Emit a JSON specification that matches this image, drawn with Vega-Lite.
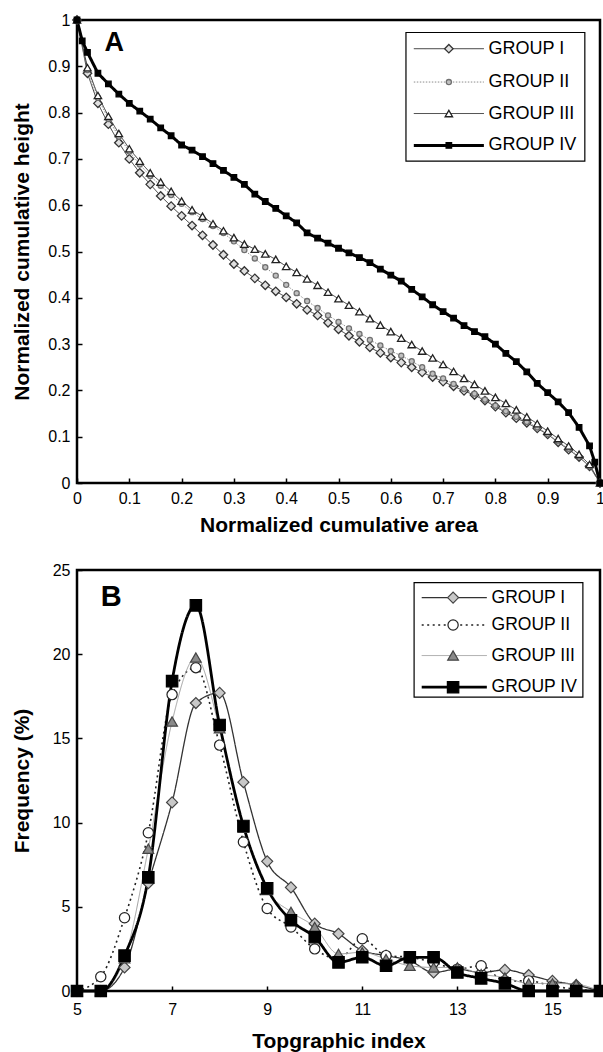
{
"$schema": "https://vega.github.io/schema/vega-lite/v6.json",
"padding": {"left": 9, "top": 10, "right": 2, "bottom": 0},
"spacing": 23,
"config": {
  "font": "Liberation Sans",
  "view": {"stroke": "#000000", "strokeWidth": 2.5},
  "axis": {"grid": false, "domain": false, "ticks": true, "tickColor": "#000000", "tickWidth": 1.5, "tickSize": -5, "labelColor": "#000000", "titleColor": "#000000", "labelFont": "Liberation Sans", "titleFont": "Liberation Sans", "labelFontSize": 16, "titleFontSize": 21, "titleFontWeight": "bold", "labelFlush": false, "labelOverlap": false}
},
"resolve": {"scale": {"color": "independent", "fill": "independent", "stroke": "independent", "shape": "independent", "size": "independent", "strokeDash": "independent", "strokeWidth": "independent"}},
"datasets": {
"A": [
{"g":"GROUP I","x":0,"y":1},{"g":"GROUP I","x":0.02,"y":0.885},{"g":"GROUP I","x":0.04,"y":0.82},{"g":"GROUP I","x":0.06,"y":0.775},{"g":"GROUP I","x":0.08,"y":0.735},{"g":"GROUP I","x":0.1,"y":0.7},{"g":"GROUP I","x":0.12,"y":0.67},{"g":"GROUP I","x":0.14,"y":0.645},{"g":"GROUP I","x":0.16,"y":0.62},{"g":"GROUP I","x":0.18,"y":0.598},{"g":"GROUP I","x":0.2,"y":0.577},{"g":"GROUP I","x":0.22,"y":0.556},{"g":"GROUP I","x":0.24,"y":0.535},{"g":"GROUP I","x":0.26,"y":0.514},{"g":"GROUP I","x":0.28,"y":0.493},{"g":"GROUP I","x":0.3,"y":0.473},{"g":"GROUP I","x":0.32,"y":0.458},{"g":"GROUP I","x":0.34,"y":0.442},{"g":"GROUP I","x":0.36,"y":0.427},{"g":"GROUP I","x":0.38,"y":0.414},{"g":"GROUP I","x":0.4,"y":0.401},{"g":"GROUP I","x":0.42,"y":0.387},{"g":"GROUP I","x":0.44,"y":0.374},{"g":"GROUP I","x":0.46,"y":0.362},{"g":"GROUP I","x":0.48,"y":0.346},{"g":"GROUP I","x":0.5,"y":0.332},{"g":"GROUP I","x":0.52,"y":0.318},{"g":"GROUP I","x":0.54,"y":0.305},{"g":"GROUP I","x":0.56,"y":0.293},{"g":"GROUP I","x":0.58,"y":0.281},{"g":"GROUP I","x":0.6,"y":0.271},{"g":"GROUP I","x":0.62,"y":0.26},{"g":"GROUP I","x":0.64,"y":0.25},{"g":"GROUP I","x":0.66,"y":0.239},{"g":"GROUP I","x":0.68,"y":0.229},{"g":"GROUP I","x":0.7,"y":0.219},{"g":"GROUP I","x":0.72,"y":0.209},{"g":"GROUP I","x":0.74,"y":0.199},{"g":"GROUP I","x":0.76,"y":0.19},{"g":"GROUP I","x":0.78,"y":0.178},{"g":"GROUP I","x":0.8,"y":0.165},{"g":"GROUP I","x":0.82,"y":0.152},{"g":"GROUP I","x":0.84,"y":0.14},{"g":"GROUP I","x":0.86,"y":0.13},{"g":"GROUP I","x":0.88,"y":0.118},{"g":"GROUP I","x":0.9,"y":0.105},{"g":"GROUP I","x":0.92,"y":0.088},{"g":"GROUP I","x":0.94,"y":0.072},{"g":"GROUP I","x":0.96,"y":0.056},{"g":"GROUP I","x":0.98,"y":0.036},{"g":"GROUP I","x":1,"y":0},
{"g":"GROUP II","x":0,"y":1},{"g":"GROUP II","x":0.02,"y":0.892},{"g":"GROUP II","x":0.04,"y":0.832},{"g":"GROUP II","x":0.06,"y":0.786},{"g":"GROUP II","x":0.08,"y":0.748},{"g":"GROUP II","x":0.1,"y":0.716},{"g":"GROUP II","x":0.12,"y":0.688},{"g":"GROUP II","x":0.14,"y":0.663},{"g":"GROUP II","x":0.16,"y":0.642},{"g":"GROUP II","x":0.18,"y":0.622},{"g":"GROUP II","x":0.2,"y":0.603},{"g":"GROUP II","x":0.22,"y":0.585},{"g":"GROUP II","x":0.24,"y":0.57},{"g":"GROUP II","x":0.26,"y":0.555},{"g":"GROUP II","x":0.28,"y":0.54},{"g":"GROUP II","x":0.3,"y":0.522},{"g":"GROUP II","x":0.32,"y":0.503},{"g":"GROUP II","x":0.34,"y":0.485},{"g":"GROUP II","x":0.36,"y":0.466},{"g":"GROUP II","x":0.38,"y":0.448},{"g":"GROUP II","x":0.4,"y":0.428},{"g":"GROUP II","x":0.42,"y":0.41},{"g":"GROUP II","x":0.44,"y":0.393},{"g":"GROUP II","x":0.46,"y":0.378},{"g":"GROUP II","x":0.48,"y":0.362},{"g":"GROUP II","x":0.5,"y":0.348},{"g":"GROUP II","x":0.52,"y":0.334},{"g":"GROUP II","x":0.54,"y":0.322},{"g":"GROUP II","x":0.56,"y":0.309},{"g":"GROUP II","x":0.58,"y":0.297},{"g":"GROUP II","x":0.6,"y":0.285},{"g":"GROUP II","x":0.62,"y":0.275},{"g":"GROUP II","x":0.64,"y":0.263},{"g":"GROUP II","x":0.66,"y":0.25},{"g":"GROUP II","x":0.68,"y":0.236},{"g":"GROUP II","x":0.7,"y":0.226},{"g":"GROUP II","x":0.72,"y":0.214},{"g":"GROUP II","x":0.74,"y":0.203},{"g":"GROUP II","x":0.76,"y":0.193},{"g":"GROUP II","x":0.78,"y":0.18},{"g":"GROUP II","x":0.8,"y":0.167},{"g":"GROUP II","x":0.82,"y":0.155},{"g":"GROUP II","x":0.84,"y":0.143},{"g":"GROUP II","x":0.86,"y":0.132},{"g":"GROUP II","x":0.88,"y":0.12},{"g":"GROUP II","x":0.9,"y":0.106},{"g":"GROUP II","x":0.92,"y":0.09},{"g":"GROUP II","x":0.94,"y":0.074},{"g":"GROUP II","x":0.96,"y":0.057},{"g":"GROUP II","x":0.98,"y":0.036},{"g":"GROUP II","x":1,"y":0},
{"g":"GROUP III","x":0,"y":1},{"g":"GROUP III","x":0.02,"y":0.897},{"g":"GROUP III","x":0.04,"y":0.837},{"g":"GROUP III","x":0.06,"y":0.792},{"g":"GROUP III","x":0.08,"y":0.755},{"g":"GROUP III","x":0.1,"y":0.722},{"g":"GROUP III","x":0.12,"y":0.695},{"g":"GROUP III","x":0.14,"y":0.67},{"g":"GROUP III","x":0.16,"y":0.65},{"g":"GROUP III","x":0.18,"y":0.63},{"g":"GROUP III","x":0.2,"y":0.609},{"g":"GROUP III","x":0.22,"y":0.59},{"g":"GROUP III","x":0.24,"y":0.576},{"g":"GROUP III","x":0.26,"y":0.56},{"g":"GROUP III","x":0.28,"y":0.545},{"g":"GROUP III","x":0.3,"y":0.53},{"g":"GROUP III","x":0.32,"y":0.516},{"g":"GROUP III","x":0.34,"y":0.505},{"g":"GROUP III","x":0.36,"y":0.495},{"g":"GROUP III","x":0.38,"y":0.483},{"g":"GROUP III","x":0.4,"y":0.468},{"g":"GROUP III","x":0.42,"y":0.455},{"g":"GROUP III","x":0.44,"y":0.441},{"g":"GROUP III","x":0.46,"y":0.427},{"g":"GROUP III","x":0.48,"y":0.412},{"g":"GROUP III","x":0.5,"y":0.398},{"g":"GROUP III","x":0.52,"y":0.384},{"g":"GROUP III","x":0.54,"y":0.37},{"g":"GROUP III","x":0.56,"y":0.355},{"g":"GROUP III","x":0.58,"y":0.341},{"g":"GROUP III","x":0.6,"y":0.327},{"g":"GROUP III","x":0.62,"y":0.313},{"g":"GROUP III","x":0.64,"y":0.299},{"g":"GROUP III","x":0.66,"y":0.285},{"g":"GROUP III","x":0.68,"y":0.27},{"g":"GROUP III","x":0.7,"y":0.256},{"g":"GROUP III","x":0.72,"y":0.241},{"g":"GROUP III","x":0.74,"y":0.226},{"g":"GROUP III","x":0.76,"y":0.213},{"g":"GROUP III","x":0.78,"y":0.199},{"g":"GROUP III","x":0.8,"y":0.185},{"g":"GROUP III","x":0.82,"y":0.172},{"g":"GROUP III","x":0.84,"y":0.158},{"g":"GROUP III","x":0.86,"y":0.143},{"g":"GROUP III","x":0.88,"y":0.128},{"g":"GROUP III","x":0.9,"y":0.112},{"g":"GROUP III","x":0.92,"y":0.096},{"g":"GROUP III","x":0.94,"y":0.08},{"g":"GROUP III","x":0.96,"y":0.062},{"g":"GROUP III","x":0.98,"y":0.04},{"g":"GROUP III","x":1,"y":0},
{"g":"GROUP IV","x":0,"y":1},{"g":"GROUP IV","x":0.01,"y":0.955},{"g":"GROUP IV","x":0.02,"y":0.93},{"g":"GROUP IV","x":0.04,"y":0.885},{"g":"GROUP IV","x":0.06,"y":0.862},{"g":"GROUP IV","x":0.08,"y":0.84},{"g":"GROUP IV","x":0.1,"y":0.82},{"g":"GROUP IV","x":0.12,"y":0.803},{"g":"GROUP IV","x":0.14,"y":0.786},{"g":"GROUP IV","x":0.16,"y":0.767},{"g":"GROUP IV","x":0.18,"y":0.75},{"g":"GROUP IV","x":0.2,"y":0.73},{"g":"GROUP IV","x":0.22,"y":0.719},{"g":"GROUP IV","x":0.24,"y":0.705},{"g":"GROUP IV","x":0.26,"y":0.69},{"g":"GROUP IV","x":0.28,"y":0.675},{"g":"GROUP IV","x":0.3,"y":0.66},{"g":"GROUP IV","x":0.32,"y":0.645},{"g":"GROUP IV","x":0.34,"y":0.624},{"g":"GROUP IV","x":0.36,"y":0.608},{"g":"GROUP IV","x":0.38,"y":0.593},{"g":"GROUP IV","x":0.4,"y":0.577},{"g":"GROUP IV","x":0.42,"y":0.562},{"g":"GROUP IV","x":0.44,"y":0.54},{"g":"GROUP IV","x":0.46,"y":0.529},{"g":"GROUP IV","x":0.48,"y":0.518},{"g":"GROUP IV","x":0.5,"y":0.507},{"g":"GROUP IV","x":0.52,"y":0.497},{"g":"GROUP IV","x":0.54,"y":0.487},{"g":"GROUP IV","x":0.56,"y":0.476},{"g":"GROUP IV","x":0.58,"y":0.462},{"g":"GROUP IV","x":0.6,"y":0.449},{"g":"GROUP IV","x":0.62,"y":0.436},{"g":"GROUP IV","x":0.64,"y":0.418},{"g":"GROUP IV","x":0.66,"y":0.402},{"g":"GROUP IV","x":0.68,"y":0.385},{"g":"GROUP IV","x":0.7,"y":0.37},{"g":"GROUP IV","x":0.72,"y":0.356},{"g":"GROUP IV","x":0.74,"y":0.34},{"g":"GROUP IV","x":0.76,"y":0.327},{"g":"GROUP IV","x":0.78,"y":0.316},{"g":"GROUP IV","x":0.8,"y":0.3},{"g":"GROUP IV","x":0.82,"y":0.28},{"g":"GROUP IV","x":0.84,"y":0.262},{"g":"GROUP IV","x":0.86,"y":0.24},{"g":"GROUP IV","x":0.88,"y":0.215},{"g":"GROUP IV","x":0.9,"y":0.195},{"g":"GROUP IV","x":0.92,"y":0.175},{"g":"GROUP IV","x":0.94,"y":0.152},{"g":"GROUP IV","x":0.96,"y":0.12},{"g":"GROUP IV","x":0.98,"y":0.08},{"g":"GROUP IV","x":0.99,"y":0.045},{"g":"GROUP IV","x":1,"y":0}
],
"B": [
{"g":"GROUP I","x":5,"y":0},{"g":"GROUP I","x":5.5,"y":0},{"g":"GROUP I","x":6,"y":1.4},{"g":"GROUP I","x":6.5,"y":6.4},{"g":"GROUP I","x":7,"y":11.2},{"g":"GROUP I","x":7.5,"y":17.1},{"g":"GROUP I","x":8,"y":17.7},{"g":"GROUP I","x":8.5,"y":12.4},{"g":"GROUP I","x":9,"y":7.7},{"g":"GROUP I","x":9.5,"y":6.15},{"g":"GROUP I","x":10,"y":4.0},{"g":"GROUP I","x":10.5,"y":3.4},{"g":"GROUP I","x":11,"y":2.4},{"g":"GROUP I","x":11.5,"y":2.1},{"g":"GROUP I","x":12,"y":1.8},{"g":"GROUP I","x":12.5,"y":1.1},{"g":"GROUP I","x":13,"y":1.3},{"g":"GROUP I","x":13.5,"y":1.1},{"g":"GROUP I","x":14,"y":1.25},{"g":"GROUP I","x":14.5,"y":0.95},{"g":"GROUP I","x":15,"y":0.6},{"g":"GROUP I","x":15.5,"y":0.35},{"g":"GROUP I","x":16,"y":0},
{"g":"GROUP II","x":5,"y":0},{"g":"GROUP II","x":5.5,"y":0.85},{"g":"GROUP II","x":6,"y":4.35},{"g":"GROUP II","x":6.5,"y":9.4},{"g":"GROUP II","x":7,"y":17.6},{"g":"GROUP II","x":7.5,"y":19.2},{"g":"GROUP II","x":8,"y":14.6},{"g":"GROUP II","x":8.5,"y":8.85},{"g":"GROUP II","x":9,"y":4.9},{"g":"GROUP II","x":9.5,"y":3.8},{"g":"GROUP II","x":10,"y":2.5},{"g":"GROUP II","x":10.5,"y":1.9},{"g":"GROUP II","x":11,"y":3.1},{"g":"GROUP II","x":11.5,"y":2.1},{"g":"GROUP II","x":12,"y":2.0},{"g":"GROUP II","x":12.5,"y":1.7},{"g":"GROUP II","x":13,"y":1.3},{"g":"GROUP II","x":13.5,"y":1.5},{"g":"GROUP II","x":14,"y":0.6},{"g":"GROUP II","x":14.5,"y":0.6},{"g":"GROUP II","x":15,"y":0.3},{"g":"GROUP II","x":15.5,"y":0.1},{"g":"GROUP II","x":16,"y":0},
{"g":"GROUP III","x":5,"y":0},{"g":"GROUP III","x":5.5,"y":0},{"g":"GROUP III","x":6,"y":1.95},{"g":"GROUP III","x":6.5,"y":8.45},{"g":"GROUP III","x":7,"y":16.0},{"g":"GROUP III","x":7.5,"y":19.8},{"g":"GROUP III","x":8,"y":15.6},{"g":"GROUP III","x":8.5,"y":9.7},{"g":"GROUP III","x":9,"y":6.0},{"g":"GROUP III","x":9.5,"y":4.7},{"g":"GROUP III","x":10,"y":3.8},{"g":"GROUP III","x":10.5,"y":2.2},{"g":"GROUP III","x":11,"y":2.3},{"g":"GROUP III","x":11.5,"y":1.9},{"g":"GROUP III","x":12,"y":1.5},{"g":"GROUP III","x":12.5,"y":1.4},{"g":"GROUP III","x":13,"y":1.4},{"g":"GROUP III","x":13.5,"y":1.0},{"g":"GROUP III","x":14,"y":0.8},{"g":"GROUP III","x":14.5,"y":0.45},{"g":"GROUP III","x":15,"y":0.45},{"g":"GROUP III","x":15.5,"y":0.4},{"g":"GROUP III","x":16,"y":0},
{"g":"GROUP IV","x":5,"y":0},{"g":"GROUP IV","x":5.5,"y":0},{"g":"GROUP IV","x":6,"y":2.1},{"g":"GROUP IV","x":6.5,"y":6.75},{"g":"GROUP IV","x":7,"y":18.4},{"g":"GROUP IV","x":7.5,"y":22.9},{"g":"GROUP IV","x":8,"y":15.8},{"g":"GROUP IV","x":8.5,"y":9.8},{"g":"GROUP IV","x":9,"y":6.1},{"g":"GROUP IV","x":9.5,"y":4.2},{"g":"GROUP IV","x":10,"y":3.2},{"g":"GROUP IV","x":10.5,"y":1.7},{"g":"GROUP IV","x":11,"y":2.0},{"g":"GROUP IV","x":11.5,"y":1.5},{"g":"GROUP IV","x":12,"y":2.0},{"g":"GROUP IV","x":12.5,"y":2.0},{"g":"GROUP IV","x":13,"y":1.1},{"g":"GROUP IV","x":13.5,"y":0.75},{"g":"GROUP IV","x":14,"y":0.45},{"g":"GROUP IV","x":14.5,"y":0},{"g":"GROUP IV","x":15,"y":0},{"g":"GROUP IV","x":15.5,"y":0},{"g":"GROUP IV","x":16,"y":0}
]
},
"vconcat": [
{
"width": 523, "height": 463,
"layer": [
 {"data": {"name": "A"}, "mark": {"type": "line"},
  "encoding": {
   "x": {"field": "x", "type": "quantitative", "title": "Normalized cumulative area", "scale": {"domain": [0, 1], "nice": false}, "axis": {"values": [0,0.1,0.2,0.3,0.4,0.5,0.6,0.7,0.8,0.9,1], "format": "~g", "labelPadding": 12, "minExtent": 23, "maxExtent": 23, "titlePadding": 8.5}},
   "y": {"field": "y", "type": "quantitative", "title": "Normalized cumulative height", "scale": {"domain": [0, 1], "nice": false}, "axis": {"values": [0,0.1,0.2,0.3,0.4,0.5,0.6,0.7,0.8,0.9,1], "format": "~g", "labelPadding": 12, "minExtent": 36, "maxExtent": 36, "titlePadding": 9}},
   "color": {"field": "g", "type": "nominal", "legend": null, "scale": {"domain": ["GROUP I","GROUP II","GROUP III","GROUP IV"], "range": ["#333333","#8c8c8c","#333333","#000000"]}},
   "strokeDash": {"field": "g", "type": "nominal", "legend": null, "scale": {"domain": ["GROUP I","GROUP II","GROUP III","GROUP IV"], "range": [[1,0],[1.5,1.5],[1,0],[1,0]]}},
   "strokeWidth": {"field": "g", "type": "nominal", "legend": null, "scale": {"type": "ordinal", "domain": ["GROUP I","GROUP II","GROUP III","GROUP IV"], "range": [1,1,1,3]}}
  }},
 {"data": {"name": "A"}, "mark": {"type": "point", "filled": true, "opacity": 1, "strokeWidth": 1.3},
  "encoding": {
   "x": {"field": "x", "type": "quantitative", "title": "Normalized cumulative area"},
   "y": {"field": "y", "type": "quantitative", "title": "Normalized cumulative height"},
   "shape": {"field": "g", "type": "nominal", "legend": null, "scale": {"domain": ["GROUP I","GROUP II","GROUP III","GROUP IV"], "range": ["diamond","circle","triangle-up","square"]}},
   "fill": {"field": "g", "type": "nominal", "legend": null, "scale": {"domain": ["GROUP I","GROUP II","GROUP III","GROUP IV"], "range": ["#e0e0e0","#c0c0c0","#ffffff","#000000"]}},
   "stroke": {"field": "g", "type": "nominal", "legend": null, "scale": {"domain": ["GROUP I","GROUP II","GROUP III","GROUP IV"], "range": ["#333333","#707070","#222222","#000000"]}},
   "size": {"field": "g", "type": "nominal", "legend": null, "scale": {"type": "ordinal", "domain": ["GROUP I","GROUP II","GROUP III","GROUP IV"], "range": [72,26,55,30]}}
  }},
 {"data": {"values": [{"t": "A"}]}, "mark": {"type": "text", "fontSize": 27, "fontWeight": "bold", "align": "center", "baseline": "middle", "color": "#000000"},
  "encoding": {"x": {"datum": 0.071, "type": "quantitative", "title": "Normalized cumulative area"}, "y": {"datum": 0.95, "type": "quantitative", "title": "Normalized cumulative height"}, "text": {"field": "t"}}},
 {"data": {"values": [{"t": "box"}]}, "mark": {"type": "rect", "fill": "#ffffff", "stroke": "#000000", "strokeWidth": 1.2},
  "encoding": {"x": {"datum": 0.629, "type": "quantitative", "title": "Normalized cumulative area"}, "x2": {"datum": 0.971}, "y": {"datum": 0.973, "type": "quantitative", "title": "Normalized cumulative height"}, "y2": {"datum": 0.695}}},
 {"data": {"values": [{"g": "GROUP I"},{"g": "GROUP II"},{"g": "GROUP III"},{"g": "GROUP IV"}]},
  "layer": [
   {"transform": [{"filter": "datum.g === 'GROUP I'"}], "encoding": {"y": {"datum": 0.938, "type": "quantitative", "title": "Normalized cumulative height"}},
    "layer": [
     {"mark": {"type": "rule"}, "encoding": {"x": {"datum": 0.644, "type": "quantitative", "title": "Normalized cumulative area"}, "x2": {"datum": 0.778},
       "color": {"field": "g", "type": "nominal", "legend": null, "scale": {"domain": ["GROUP I","GROUP II","GROUP III","GROUP IV"], "range": ["#333333","#8c8c8c","#333333","#000000"]}},
       "strokeDash": {"field": "g", "type": "nominal", "legend": null, "scale": {"domain": ["GROUP I","GROUP II","GROUP III","GROUP IV"], "range": [[1,0],[1.5,1.5],[1,0],[1,0]]}},
       "strokeWidth": {"field": "g", "type": "nominal", "legend": null, "scale": {"type": "ordinal", "domain": ["GROUP I","GROUP II","GROUP III","GROUP IV"], "range": [1,1,1,3]}}}},
     {"mark": {"type": "point", "filled": true, "opacity": 1, "strokeWidth": 1.3}, "encoding": {"x": {"datum": 0.711, "type": "quantitative", "title": "Normalized cumulative area"},
       "shape": {"field": "g", "type": "nominal", "legend": null, "scale": {"domain": ["GROUP I","GROUP II","GROUP III","GROUP IV"], "range": ["diamond","circle","triangle-up","square"]}},
       "fill": {"field": "g", "type": "nominal", "legend": null, "scale": {"domain": ["GROUP I","GROUP II","GROUP III","GROUP IV"], "range": ["#e0e0e0","#c0c0c0","#ffffff","#000000"]}},
       "stroke": {"field": "g", "type": "nominal", "legend": null, "scale": {"domain": ["GROUP I","GROUP II","GROUP III","GROUP IV"], "range": ["#333333","#707070","#222222","#000000"]}},
       "size": {"field": "g", "type": "nominal", "legend": null, "scale": {"type": "ordinal", "domain": ["GROUP I","GROUP II","GROUP III","GROUP IV"], "range": [72,26,55,30]}}}},
     {"mark": {"type": "text", "align": "left", "baseline": "middle", "fontSize": 18, "color": "#000000"}, "encoding": {"x": {"datum": 0.787, "type": "quantitative", "title": "Normalized cumulative area"}, "text": {"field": "g"}}}
    ]},
   {"transform": [{"filter": "datum.g === 'GROUP II'"}], "encoding": {"y": {"datum": 0.866, "type": "quantitative", "title": "Normalized cumulative height"}},
    "layer": [
     {"mark": {"type": "rule"}, "encoding": {"x": {"datum": 0.644, "type": "quantitative", "title": "Normalized cumulative area"}, "x2": {"datum": 0.778},
       "color": {"field": "g", "type": "nominal", "legend": null, "scale": {"domain": ["GROUP I","GROUP II","GROUP III","GROUP IV"], "range": ["#333333","#8c8c8c","#333333","#000000"]}},
       "strokeDash": {"field": "g", "type": "nominal", "legend": null, "scale": {"domain": ["GROUP I","GROUP II","GROUP III","GROUP IV"], "range": [[1,0],[1.5,1.5],[1,0],[1,0]]}},
       "strokeWidth": {"field": "g", "type": "nominal", "legend": null, "scale": {"type": "ordinal", "domain": ["GROUP I","GROUP II","GROUP III","GROUP IV"], "range": [1,1,1,3]}}}},
     {"mark": {"type": "point", "filled": true, "opacity": 1, "strokeWidth": 1.3}, "encoding": {"x": {"datum": 0.711, "type": "quantitative", "title": "Normalized cumulative area"},
       "shape": {"field": "g", "type": "nominal", "legend": null, "scale": {"domain": ["GROUP I","GROUP II","GROUP III","GROUP IV"], "range": ["diamond","circle","triangle-up","square"]}},
       "fill": {"field": "g", "type": "nominal", "legend": null, "scale": {"domain": ["GROUP I","GROUP II","GROUP III","GROUP IV"], "range": ["#e0e0e0","#c0c0c0","#ffffff","#000000"]}},
       "stroke": {"field": "g", "type": "nominal", "legend": null, "scale": {"domain": ["GROUP I","GROUP II","GROUP III","GROUP IV"], "range": ["#333333","#707070","#222222","#000000"]}},
       "size": {"field": "g", "type": "nominal", "legend": null, "scale": {"type": "ordinal", "domain": ["GROUP I","GROUP II","GROUP III","GROUP IV"], "range": [72,26,55,30]}}}},
     {"mark": {"type": "text", "align": "left", "baseline": "middle", "fontSize": 18, "color": "#000000"}, "encoding": {"x": {"datum": 0.787, "type": "quantitative", "title": "Normalized cumulative area"}, "text": {"field": "g"}}}
    ]},
   {"transform": [{"filter": "datum.g === 'GROUP III'"}], "encoding": {"y": {"datum": 0.798, "type": "quantitative", "title": "Normalized cumulative height"}},
    "layer": [
     {"mark": {"type": "rule"}, "encoding": {"x": {"datum": 0.644, "type": "quantitative", "title": "Normalized cumulative area"}, "x2": {"datum": 0.778},
       "color": {"field": "g", "type": "nominal", "legend": null, "scale": {"domain": ["GROUP I","GROUP II","GROUP III","GROUP IV"], "range": ["#333333","#8c8c8c","#333333","#000000"]}},
       "strokeDash": {"field": "g", "type": "nominal", "legend": null, "scale": {"domain": ["GROUP I","GROUP II","GROUP III","GROUP IV"], "range": [[1,0],[1.5,1.5],[1,0],[1,0]]}},
       "strokeWidth": {"field": "g", "type": "nominal", "legend": null, "scale": {"type": "ordinal", "domain": ["GROUP I","GROUP II","GROUP III","GROUP IV"], "range": [1,1,1,3]}}}},
     {"mark": {"type": "point", "filled": true, "opacity": 1, "strokeWidth": 1.3}, "encoding": {"x": {"datum": 0.711, "type": "quantitative", "title": "Normalized cumulative area"},
       "shape": {"field": "g", "type": "nominal", "legend": null, "scale": {"domain": ["GROUP I","GROUP II","GROUP III","GROUP IV"], "range": ["diamond","circle","triangle-up","square"]}},
       "fill": {"field": "g", "type": "nominal", "legend": null, "scale": {"domain": ["GROUP I","GROUP II","GROUP III","GROUP IV"], "range": ["#e0e0e0","#c0c0c0","#ffffff","#000000"]}},
       "stroke": {"field": "g", "type": "nominal", "legend": null, "scale": {"domain": ["GROUP I","GROUP II","GROUP III","GROUP IV"], "range": ["#333333","#707070","#222222","#000000"]}},
       "size": {"field": "g", "type": "nominal", "legend": null, "scale": {"type": "ordinal", "domain": ["GROUP I","GROUP II","GROUP III","GROUP IV"], "range": [72,26,55,30]}}}},
     {"mark": {"type": "text", "align": "left", "baseline": "middle", "fontSize": 18, "color": "#000000"}, "encoding": {"x": {"datum": 0.787, "type": "quantitative", "title": "Normalized cumulative area"}, "text": {"field": "g"}}}
    ]},
   {"transform": [{"filter": "datum.g === 'GROUP IV'"}], "encoding": {"y": {"datum": 0.729, "type": "quantitative", "title": "Normalized cumulative height"}},
    "layer": [
     {"mark": {"type": "rule"}, "encoding": {"x": {"datum": 0.644, "type": "quantitative", "title": "Normalized cumulative area"}, "x2": {"datum": 0.778},
       "color": {"field": "g", "type": "nominal", "legend": null, "scale": {"domain": ["GROUP I","GROUP II","GROUP III","GROUP IV"], "range": ["#333333","#8c8c8c","#333333","#000000"]}},
       "strokeDash": {"field": "g", "type": "nominal", "legend": null, "scale": {"domain": ["GROUP I","GROUP II","GROUP III","GROUP IV"], "range": [[1,0],[1.5,1.5],[1,0],[1,0]]}},
       "strokeWidth": {"field": "g", "type": "nominal", "legend": null, "scale": {"type": "ordinal", "domain": ["GROUP I","GROUP II","GROUP III","GROUP IV"], "range": [1,1,1,3]}}}},
     {"mark": {"type": "point", "filled": true, "opacity": 1, "strokeWidth": 1.3}, "encoding": {"x": {"datum": 0.711, "type": "quantitative", "title": "Normalized cumulative area"},
       "shape": {"field": "g", "type": "nominal", "legend": null, "scale": {"domain": ["GROUP I","GROUP II","GROUP III","GROUP IV"], "range": ["diamond","circle","triangle-up","square"]}},
       "fill": {"field": "g", "type": "nominal", "legend": null, "scale": {"domain": ["GROUP I","GROUP II","GROUP III","GROUP IV"], "range": ["#e0e0e0","#c0c0c0","#ffffff","#000000"]}},
       "stroke": {"field": "g", "type": "nominal", "legend": null, "scale": {"domain": ["GROUP I","GROUP II","GROUP III","GROUP IV"], "range": ["#333333","#707070","#222222","#000000"]}},
       "size": {"field": "g", "type": "nominal", "legend": null, "scale": {"type": "ordinal", "domain": ["GROUP I","GROUP II","GROUP III","GROUP IV"], "range": [72,26,55,30]}}}},
     {"mark": {"type": "text", "align": "left", "baseline": "middle", "fontSize": 18, "color": "#000000"}, "encoding": {"x": {"datum": 0.787, "type": "quantitative", "title": "Normalized cumulative area"}, "text": {"field": "g"}}}
    ]}
  ]}
]
},
{
"width": 523, "height": 421,
"layer": [
 {"data": {"name": "B"}, "mark": {"type": "line", "interpolate": "monotone"},
  "encoding": {
   "x": {"field": "x", "type": "quantitative", "title": "Topgraphic index", "scale": {"domain": [5, 16], "nice": false, "zero": false}, "axis": {"values": [5,7,9,11,13,15], "labelPadding": 15, "minExtent": 26, "maxExtent": 26, "titlePadding": 13}},
   "y": {"field": "y", "type": "quantitative", "title": "Frequency (%)", "scale": {"domain": [0, 25], "nice": false}, "axis": {"values": [0,5,10,15,20,25], "labelPadding": 12, "minExtent": 36, "maxExtent": 36, "titlePadding": 9}},
   "color": {"field": "g", "type": "nominal", "legend": null, "scale": {"domain": ["GROUP I","GROUP II","GROUP III","GROUP IV"], "range": ["#333333","#222222","#a0a0a0","#000000"]}},
   "strokeDash": {"field": "g", "type": "nominal", "legend": null, "scale": {"domain": ["GROUP I","GROUP II","GROUP III","GROUP IV"], "range": [[1,0],[2,3.5],[1,0],[1,0]]}},
   "strokeWidth": {"field": "g", "type": "nominal", "legend": null, "scale": {"type": "ordinal", "domain": ["GROUP I","GROUP II","GROUP III","GROUP IV"], "range": [1.3,1.6,1,2.8]}}
  }},
 {"data": {"name": "B"}, "mark": {"type": "point", "filled": true, "opacity": 1, "strokeWidth": 1.2},
  "encoding": {
   "x": {"field": "x", "type": "quantitative", "title": "Topgraphic index"},
   "y": {"field": "y", "type": "quantitative", "title": "Frequency (%)"},
   "shape": {"field": "g", "type": "nominal", "legend": null, "scale": {"domain": ["GROUP I","GROUP II","GROUP III","GROUP IV"], "range": ["diamond","circle","triangle-up","square"]}},
   "fill": {"field": "g", "type": "nominal", "legend": null, "scale": {"domain": ["GROUP I","GROUP II","GROUP III","GROUP IV"], "range": ["#c8c8c8","#ffffff","#8a8a8a","#000000"]}},
   "stroke": {"field": "g", "type": "nominal", "legend": null, "scale": {"domain": ["GROUP I","GROUP II","GROUP III","GROUP IV"], "range": ["#444444","#222222","#444444","#000000"]}},
   "size": {"field": "g", "type": "nominal", "legend": null, "scale": {"type": "ordinal", "domain": ["GROUP I","GROUP II","GROUP III","GROUP IV"], "range": [121,105,115,130]}}
  }},
 {"data": {"values": [{"t": "B"}]}, "mark": {"type": "text", "fontSize": 29, "fontWeight": "bold", "align": "center", "baseline": "middle", "color": "#000000"},
  "encoding": {"x": {"datum": 5.72, "type": "quantitative", "title": "Topgraphic index"}, "y": {"datum": 23.4, "type": "quantitative", "title": "Frequency (%)"}, "text": {"field": "t"}}},
 {"data": {"values": [{"t": "box"}]}, "mark": {"type": "rect", "fill": "#ffffff", "stroke": "#000000", "strokeWidth": 1.2},
  "encoding": {"x": {"datum": 12.09, "type": "quantitative", "title": "Topgraphic index"}, "x2": {"datum": 15.64}, "y": {"datum": 24.25, "type": "quantitative", "title": "Frequency (%)"}, "y2": {"datum": 17.45}}},
 {"data": {"values": [{"g": "GROUP I"},{"g": "GROUP II"},{"g": "GROUP III"},{"g": "GROUP IV"}]},
  "layer": [
   {"transform": [{"filter": "datum.g === 'GROUP I'"}], "encoding": {"y": {"datum": 23.36, "type": "quantitative", "title": "Frequency (%)"}},
    "layer": [
     {"mark": {"type": "rule"}, "encoding": {"x": {"datum": 12.25, "type": "quantitative", "title": "Topgraphic index"}, "x2": {"datum": 13.62},
       "color": {"field": "g", "type": "nominal", "legend": null, "scale": {"domain": ["GROUP I","GROUP II","GROUP III","GROUP IV"], "range": ["#333333","#222222","#a0a0a0","#000000"]}},
       "strokeDash": {"field": "g", "type": "nominal", "legend": null, "scale": {"domain": ["GROUP I","GROUP II","GROUP III","GROUP IV"], "range": [[1,0],[2,3.5],[1,0],[1,0]]}},
       "strokeWidth": {"field": "g", "type": "nominal", "legend": null, "scale": {"type": "ordinal", "domain": ["GROUP I","GROUP II","GROUP III","GROUP IV"], "range": [1.3,1.6,1,2.8]}}}},
     {"mark": {"type": "point", "filled": true, "opacity": 1, "strokeWidth": 1.2}, "encoding": {"x": {"datum": 12.91, "type": "quantitative", "title": "Topgraphic index"},
       "shape": {"field": "g", "type": "nominal", "legend": null, "scale": {"domain": ["GROUP I","GROUP II","GROUP III","GROUP IV"], "range": ["diamond","circle","triangle-up","square"]}},
       "fill": {"field": "g", "type": "nominal", "legend": null, "scale": {"domain": ["GROUP I","GROUP II","GROUP III","GROUP IV"], "range": ["#c8c8c8","#ffffff","#8a8a8a","#000000"]}},
       "stroke": {"field": "g", "type": "nominal", "legend": null, "scale": {"domain": ["GROUP I","GROUP II","GROUP III","GROUP IV"], "range": ["#444444","#222222","#444444","#000000"]}},
       "size": {"field": "g", "type": "nominal", "legend": null, "scale": {"type": "ordinal", "domain": ["GROUP I","GROUP II","GROUP III","GROUP IV"], "range": [121,105,115,130]}}}},
     {"mark": {"type": "text", "align": "left", "baseline": "middle", "fontSize": 17.5, "color": "#000000"}, "encoding": {"x": {"datum": 13.72, "type": "quantitative", "title": "Topgraphic index"}, "text": {"field": "g"}}}
    ]},
   {"transform": [{"filter": "datum.g === 'GROUP II'"}], "encoding": {"y": {"datum": 21.73, "type": "quantitative", "title": "Frequency (%)"}},
    "layer": [
     {"mark": {"type": "rule"}, "encoding": {"x": {"datum": 12.25, "type": "quantitative", "title": "Topgraphic index"}, "x2": {"datum": 13.62},
       "color": {"field": "g", "type": "nominal", "legend": null, "scale": {"domain": ["GROUP I","GROUP II","GROUP III","GROUP IV"], "range": ["#333333","#222222","#a0a0a0","#000000"]}},
       "strokeDash": {"field": "g", "type": "nominal", "legend": null, "scale": {"domain": ["GROUP I","GROUP II","GROUP III","GROUP IV"], "range": [[1,0],[2,3.5],[1,0],[1,0]]}},
       "strokeWidth": {"field": "g", "type": "nominal", "legend": null, "scale": {"type": "ordinal", "domain": ["GROUP I","GROUP II","GROUP III","GROUP IV"], "range": [1.3,1.6,1,2.8]}}}},
     {"mark": {"type": "point", "filled": true, "opacity": 1, "strokeWidth": 1.2}, "encoding": {"x": {"datum": 12.91, "type": "quantitative", "title": "Topgraphic index"},
       "shape": {"field": "g", "type": "nominal", "legend": null, "scale": {"domain": ["GROUP I","GROUP II","GROUP III","GROUP IV"], "range": ["diamond","circle","triangle-up","square"]}},
       "fill": {"field": "g", "type": "nominal", "legend": null, "scale": {"domain": ["GROUP I","GROUP II","GROUP III","GROUP IV"], "range": ["#c8c8c8","#ffffff","#8a8a8a","#000000"]}},
       "stroke": {"field": "g", "type": "nominal", "legend": null, "scale": {"domain": ["GROUP I","GROUP II","GROUP III","GROUP IV"], "range": ["#444444","#222222","#444444","#000000"]}},
       "size": {"field": "g", "type": "nominal", "legend": null, "scale": {"type": "ordinal", "domain": ["GROUP I","GROUP II","GROUP III","GROUP IV"], "range": [121,105,115,130]}}}},
     {"mark": {"type": "text", "align": "left", "baseline": "middle", "fontSize": 17.5, "color": "#000000"}, "encoding": {"x": {"datum": 13.72, "type": "quantitative", "title": "Topgraphic index"}, "text": {"field": "g"}}}
    ]},
   {"transform": [{"filter": "datum.g === 'GROUP III'"}], "encoding": {"y": {"datum": 19.92, "type": "quantitative", "title": "Frequency (%)"}},
    "layer": [
     {"mark": {"type": "rule"}, "encoding": {"x": {"datum": 12.25, "type": "quantitative", "title": "Topgraphic index"}, "x2": {"datum": 13.62},
       "color": {"field": "g", "type": "nominal", "legend": null, "scale": {"domain": ["GROUP I","GROUP II","GROUP III","GROUP IV"], "range": ["#333333","#222222","#a0a0a0","#000000"]}},
       "strokeDash": {"field": "g", "type": "nominal", "legend": null, "scale": {"domain": ["GROUP I","GROUP II","GROUP III","GROUP IV"], "range": [[1,0],[2,3.5],[1,0],[1,0]]}},
       "strokeWidth": {"field": "g", "type": "nominal", "legend": null, "scale": {"type": "ordinal", "domain": ["GROUP I","GROUP II","GROUP III","GROUP IV"], "range": [1.3,1.6,1,2.8]}}}},
     {"mark": {"type": "point", "filled": true, "opacity": 1, "strokeWidth": 1.2}, "encoding": {"x": {"datum": 12.91, "type": "quantitative", "title": "Topgraphic index"},
       "shape": {"field": "g", "type": "nominal", "legend": null, "scale": {"domain": ["GROUP I","GROUP II","GROUP III","GROUP IV"], "range": ["diamond","circle","triangle-up","square"]}},
       "fill": {"field": "g", "type": "nominal", "legend": null, "scale": {"domain": ["GROUP I","GROUP II","GROUP III","GROUP IV"], "range": ["#c8c8c8","#ffffff","#8a8a8a","#000000"]}},
       "stroke": {"field": "g", "type": "nominal", "legend": null, "scale": {"domain": ["GROUP I","GROUP II","GROUP III","GROUP IV"], "range": ["#444444","#222222","#444444","#000000"]}},
       "size": {"field": "g", "type": "nominal", "legend": null, "scale": {"type": "ordinal", "domain": ["GROUP I","GROUP II","GROUP III","GROUP IV"], "range": [121,105,115,130]}}}},
     {"mark": {"type": "text", "align": "left", "baseline": "middle", "fontSize": 17.5, "color": "#000000"}, "encoding": {"x": {"datum": 13.72, "type": "quantitative", "title": "Topgraphic index"}, "text": {"field": "g"}}}
    ]},
   {"transform": [{"filter": "datum.g === 'GROUP IV'"}], "encoding": {"y": {"datum": 18.04, "type": "quantitative", "title": "Frequency (%)"}},
    "layer": [
     {"mark": {"type": "rule"}, "encoding": {"x": {"datum": 12.25, "type": "quantitative", "title": "Topgraphic index"}, "x2": {"datum": 13.62},
       "color": {"field": "g", "type": "nominal", "legend": null, "scale": {"domain": ["GROUP I","GROUP II","GROUP III","GROUP IV"], "range": ["#333333","#222222","#a0a0a0","#000000"]}},
       "strokeDash": {"field": "g", "type": "nominal", "legend": null, "scale": {"domain": ["GROUP I","GROUP II","GROUP III","GROUP IV"], "range": [[1,0],[2,3.5],[1,0],[1,0]]}},
       "strokeWidth": {"field": "g", "type": "nominal", "legend": null, "scale": {"type": "ordinal", "domain": ["GROUP I","GROUP II","GROUP III","GROUP IV"], "range": [1.3,1.6,1,2.8]}}}},
     {"mark": {"type": "point", "filled": true, "opacity": 1, "strokeWidth": 1.2}, "encoding": {"x": {"datum": 12.91, "type": "quantitative", "title": "Topgraphic index"},
       "shape": {"field": "g", "type": "nominal", "legend": null, "scale": {"domain": ["GROUP I","GROUP II","GROUP III","GROUP IV"], "range": ["diamond","circle","triangle-up","square"]}},
       "fill": {"field": "g", "type": "nominal", "legend": null, "scale": {"domain": ["GROUP I","GROUP II","GROUP III","GROUP IV"], "range": ["#c8c8c8","#ffffff","#8a8a8a","#000000"]}},
       "stroke": {"field": "g", "type": "nominal", "legend": null, "scale": {"domain": ["GROUP I","GROUP II","GROUP III","GROUP IV"], "range": ["#444444","#222222","#444444","#000000"]}},
       "size": {"field": "g", "type": "nominal", "legend": null, "scale": {"type": "ordinal", "domain": ["GROUP I","GROUP II","GROUP III","GROUP IV"], "range": [121,105,115,130]}}}},
     {"mark": {"type": "text", "align": "left", "baseline": "middle", "fontSize": 17.5, "color": "#000000"}, "encoding": {"x": {"datum": 13.72, "type": "quantitative", "title": "Topgraphic index"}, "text": {"field": "g"}}}
    ]}
  ]}
]
}
]
}
